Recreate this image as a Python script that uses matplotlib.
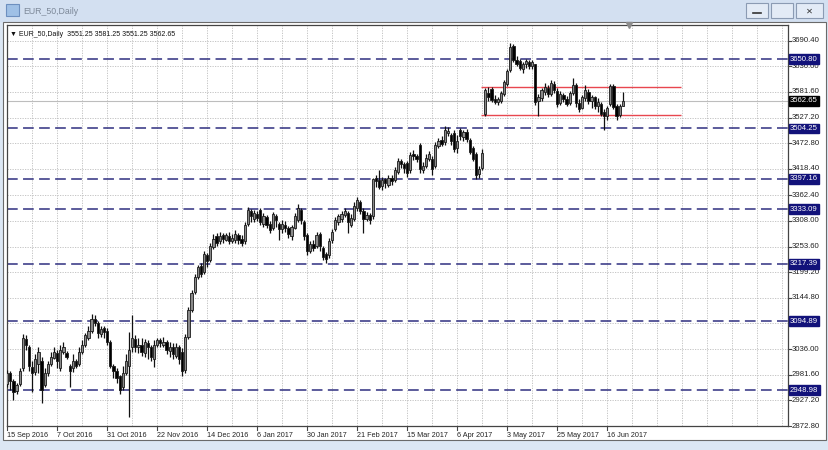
import matplotlib
matplotlib.use("Agg")
import matplotlib.pyplot as plt
from matplotlib.patches import Rectangle

# window / chart texts
symbol = "EUR_50,Daily"
header = "\u25bc EUR_50,Daily  3551.25 3581.25 3551.25 3562.65"

# daily candles (index 0 = 15 Sep 2016)
opens = [2962, 2985, 2968, 2948, 2962, 2995, 3058, 3040, 2998, 2988,
         3005, 3010, 2960, 2985, 3005, 3018, 3028, 2995, 3030, 3028,
         3000, 2995, 3010, 3005, 3030, 3045, 3060, 3075, 3100, 3092,
         3068, 3080, 3075, 3050, 3000, 2990, 2978, 2955, 2985, 3000,
         3040, 3058, 3040, 3045, 3028, 3048, 3040, 3015, 3045, 3055,
         3045, 3050, 3032, 3040, 3022, 3040, 3030, 2992, 3062, 3120,
         3158, 3190, 3212, 3200, 3236, 3225, 3252, 3275, 3265, 3278,
         3268, 3276, 3266, 3268, 3278, 3270, 3265, 3302, 3328, 3312,
         3322, 3332, 3302, 3316, 3302, 3292, 3318, 3302, 3290, 3300,
         3292, 3275, 3292, 3310, 3332, 3305, 3278, 3245, 3260, 3255,
         3280, 3250, 3238, 3235, 3268, 3290, 3305, 3312, 3320, 3325,
         3300, 3312, 3335, 3348, 3330, 3312, 3320, 3318, 3398, 3395,
         3382, 3396, 3385, 3400, 3394, 3412, 3436, 3428, 3430, 3415,
         3450, 3446, 3470, 3416, 3425, 3440, 3440, 3425, 3468, 3480,
         3475, 3495, 3490, 3495, 3462, 3500, 3485, 3497, 3480, 3462,
         3450, 3408, 3420, 3535, 3580, 3588, 3566, 3560, 3562, 3578,
         3598, 3628, 3680, 3650, 3648, 3630, 3640, 3646, 3636, 3640,
         3562, 3568, 3582, 3590, 3578, 3598, 3584, 3558, 3576, 3566,
         3558, 3580, 3596, 3558, 3548, 3568, 3582, 3562, 3570, 3552,
         3556, 3540, 3530, 3556, 3594, 3552, 3532, 3551.25]
highs = [2992, 2990, 2972, 2965, 2995, 3068, 3065, 3045, 3010, 3025,
         3040, 3020, 2995, 3010, 3030, 3040, 3035, 3045, 3050, 3032,
         3005, 3025, 3015, 3040, 3055, 3070, 3085, 3110, 3108, 3095,
         3085, 3085, 3080, 3055, 3005, 2995, 2982, 3000, 3025, 3072,
         3108, 3065, 3060, 3060, 3058, 3055, 3045, 3055, 3060, 3060,
         3062, 3055, 3050, 3048, 3048, 3045, 3038, 3068, 3125, 3162,
         3195, 3215, 3218, 3245, 3240, 3262, 3280, 3282, 3285, 3283,
         3282, 3284, 3280, 3288, 3282, 3278, 3305, 3338, 3334, 3332,
         3330, 3336, 3324, 3320, 3308, 3326, 3322, 3305, 3310, 3308,
         3298, 3300, 3325, 3344, 3336, 3310, 3282, 3265, 3268, 3285,
         3285, 3255, 3242, 3272, 3290, 3316, 3322, 3328, 3336, 3328,
         3322, 3348, 3358, 3352, 3336, 3326, 3324, 3400, 3406, 3416,
         3402, 3400, 3405, 3405, 3422, 3442, 3440, 3432, 3435, 3454,
         3458, 3450, 3474, 3432, 3450, 3456, 3445, 3476, 3484, 3488,
         3509, 3508, 3495, 3500, 3490, 3505, 3500, 3503, 3484, 3466,
         3455, 3425, 3460, 3590, 3592, 3592, 3575, 3570, 3584, 3606,
         3630, 3685, 3684, 3658, 3652, 3646, 3652, 3650, 3650, 3642,
         3578, 3590, 3600, 3596, 3606, 3604, 3590, 3584, 3580, 3574,
         3584, 3611, 3600, 3566, 3575, 3596, 3588, 3576, 3574, 3568,
         3560, 3545, 3552, 3598, 3598, 3556, 3556, 3581.25]
lows = [2955, 2950, 2928, 2940, 2958, 2990, 3035, 2990, 2945, 2980,
        2985, 2921, 2955, 2978, 3000, 3015, 2995, 2990, 3025, 3015,
        2955, 2988, 2995, 3000, 3025, 3040, 3055, 3070, 3085, 3060,
        3062, 3060, 3045, 2995, 2975, 2965, 2940, 2950, 2980, 2892,
        3030, 3030, 3028, 3022, 3020, 3015, 3010, 2998, 3040, 3040,
        3040, 3025, 3020, 3015, 3018, 3005, 2978, 2985, 3058, 3115,
        3152, 3185, 3188, 3196, 3210, 3220, 3248, 3255, 3258, 3262,
        3265, 3258, 3262, 3262, 3258, 3255, 3260, 3298, 3305, 3305,
        3308, 3300, 3296, 3292, 3282, 3288, 3296, 3268, 3282, 3284,
        3272, 3268, 3290, 3305, 3302, 3268, 3236, 3240, 3245, 3250,
        3245, 3225, 3218, 3230, 3262, 3286, 3300, 3306, 3316, 3282,
        3296, 3308, 3330, 3322, 3282, 3308, 3302, 3312, 3380, 3375,
        3374, 3378, 3380, 3384, 3390, 3408, 3420, 3410, 3402, 3410,
        3438, 3432, 3410, 3410, 3420, 3436, 3405, 3420, 3462, 3466,
        3470, 3488, 3470, 3455, 3452, 3480, 3478, 3476, 3450, 3435,
        3397, 3400, 3415, 3530, 3562, 3560, 3556, 3554, 3558, 3572,
        3594, 3624, 3645, 3636, 3628, 3622, 3632, 3630, 3630, 3555,
        3531, 3562, 3576, 3570, 3574, 3580, 3550, 3555, 3560, 3552,
        3554, 3576, 3550, 3540, 3545, 3562, 3556, 3548, 3545, 3540,
        3530, 3501, 3522, 3552, 3545, 3522, 3528, 3551.25]
closes = [2985, 2968, 2945, 2960, 2990, 3060, 3045, 3000, 2985, 3015,
          3030, 2950, 2985, 3005, 3020, 3030, 3010, 3035, 3040, 3020,
          2990, 3010, 3000, 3030, 3045, 3065, 3075, 3100, 3092, 3070,
          3078, 3072, 3050, 3000, 2990, 2975, 2950, 2985, 3010, 3035,
          3060, 3040, 3045, 3030, 3050, 3040, 3020, 3045, 3055, 3048,
          3052, 3035, 3040, 3025, 3040, 3015, 2990, 3062, 3118, 3155,
          3190, 3210, 3195, 3238, 3222, 3255, 3270, 3262, 3275, 3270,
          3278, 3265, 3272, 3280, 3268, 3262, 3300, 3332, 3318, 3325,
          3315, 3305, 3318, 3300, 3288, 3322, 3310, 3290, 3302, 3292,
          3280, 3296, 3318, 3335, 3310, 3275, 3245, 3258, 3250, 3278,
          3255, 3232, 3228, 3265, 3285, 3310, 3318, 3322, 3330, 3305,
          3315, 3340, 3352, 3330, 3312, 3320, 3310, 3396, 3392, 3380,
          3395, 3388, 3400, 3392, 3415, 3436, 3428, 3420, 3410, 3448,
          3445, 3440, 3418, 3425, 3442, 3450, 3418, 3470, 3478, 3472,
          3500, 3498, 3478, 3460, 3478, 3488, 3496, 3482, 3455, 3440,
          3405, 3418, 3452, 3585, 3570, 3565, 3560, 3566, 3580, 3602,
          3626, 3678, 3650, 3642, 3632, 3642, 3648, 3636, 3645, 3560,
          3570, 3585, 3592, 3578, 3600, 3585, 3556, 3578, 3566, 3556,
          3580, 3596, 3558, 3546, 3570, 3585, 3562, 3570, 3552, 3560,
          3535, 3530, 3548, 3594, 3550, 3530, 3552, 3562.65]

date_labels = ["15 Sep 2016", "7 Oct 2016", "31 Oct 2016", "22 Nov 2016",
               "14 Dec 2016", "6 Jan 2017", "30 Jan 2017", "21 Feb 2017",
               "15 Mar 2017", "6 Apr 2017", "3 May 2017", "25 May 2017",
               "16 Jun 2017"]
bars_per_label = 16
price_ticks = [3690.40, 3636.00, 3581.60, 3527.20, 3472.80, 3418.40, 3362.40,
               3308.00, 3253.60, 3199.20, 3144.80, 3090.40, 3036.00, 2981.60,
               2927.20, 2872.80]
levels = [3650.80, 3504.25, 3397.16, 3333.09, 3217.39, 3094.89, 2948.98]
last_price = 3562.65
range_top = 3592.0
range_bottom = 3533.0
range_from, range_to = 151.5, 215.5

W, H = 829, 450
fig = plt.figure(figsize=(W / 100, H / 100), dpi=100)
fig.patch.set_facecolor("#dce7f4")

# window chrome drawn in pixel coordinates
bg = fig.add_axes([0, 0, 1, 1])
bg.set_xlim(0, W)
bg.set_ylim(H, 0)
bg.axis("off")
bg.add_patch(Rectangle((0, 0), W, 21, color="#d3e0f1", zorder=0))
bg.add_patch(Rectangle((3, 22), 823, 418, facecolor="white",
                       edgecolor="#6a6a6a", lw=0.8, zorder=1))
bg.add_patch(Rectangle((6, 4), 13, 12, facecolor="#9fc0e6",
                       edgecolor="#6d8fbf", lw=0.8, zorder=2))
bg.text(23, 11, symbol, fontsize=6.3, color="#7c8898", va="center",
        family="Liberation Sans")
for bx, bw in [(746, 22), (771, 22), (796, 27)]:
    bg.add_patch(Rectangle((bx, 3), bw, 15, facecolor="#e3ebf6",
                           edgecolor="#8b9bb3", lw=0.8, zorder=2))
bg.plot([753, 761], [13, 13], color="#333", lw=1.2)
bg.add_patch(Rectangle((778, 7), 8, 7, facecolor="none", edgecolor="#333", lw=1))
bg.text(809.5, 11, "\u2715", fontsize=6, ha="center", va="center", color="#333")

# chart axes: frame spans x 7..788, y 25..426 px
x0, x1, y0, y1 = 7, 788, 25, 426
ax = fig.add_axes([x0 / W, 1 - y1 / H, (x1 - x0) / W, (y1 - y0) / H])
px_per_bar = 3.125
ax.set_xlim(-0.05, (x1 - x0) / px_per_bar - 0.05)
ax.set_ylim(2872.8, 2872.8 + (y1 - y0) * 2.122)
for s in ax.spines.values():
    s.set_color("#444444")
    s.set_linewidth(0.9)
ax.set_xticks([])
ax.set_yticks([])

n = len(closes)
xs = list(range(n))
grid_kw = dict(color="#bdbdbd", lw=0.6, linestyle=(0, (1.5, 1.5)), zorder=0)
for g in range(8, 250, 8):
    ax.axvline(g, **grid_kw)
for p in price_ticks:
    ax.axhline(p, **grid_kw)

# price scale labels (3090.40 sits under the 3094.89 level box)
ytr = ax.get_yaxis_transform()
for p in price_ticks:
    ax.plot([1, 1.004], [p, p], transform=ytr, color="#444", lw=0.8, clip_on=False)
    if any(abs(p - lv) < 6 for lv in levels):
        continue
    ax.text(1.005, p, f"{p:.2f}", transform=ytr, fontsize=5.6, va="center",
            ha="left", color="#222", family="Liberation Sans", clip_on=False)

# date labels
xtr = ax.get_xaxis_transform()
for k, lab in enumerate(date_labels):
    pos = k * bars_per_label
    ax.plot([pos, pos], [0, -0.01], transform=xtr, color="#444", lw=0.8, clip_on=False)
    ax.text(pos + 0.1, -0.023, lab, transform=xtr, fontsize=5.2, va="center",
            ha="left", color="#222", family="Liberation Sans", clip_on=False)

# horizontal levels
for lv in levels:
    ax.axhline(lv, color="#2f2f80", lw=1.1, linestyle=(0, (7, 3.5)), zorder=1)
    ax.text(1.0025, lv, f"{lv:.2f}", transform=ytr, fontsize=5.6, va="center",
            ha="left", color="white", family="Liberation Sans", clip_on=False,
            zorder=5, bbox=dict(boxstyle="square,pad=0.18", fc="#12127a",
                                ec="#12127a"))

ax.axhline(last_price, color="#bdbdbd", lw=0.8, zorder=1)
ax.text(1.0025, last_price, f"{last_price:.2f}", transform=ytr, fontsize=5.6,
        va="center", ha="left", color="white", family="Liberation Sans",
        clip_on=False, zorder=5,
        bbox=dict(boxstyle="square,pad=0.18", fc="black", ec="black"))

ax.hlines([range_top, range_bottom], range_from, range_to, color="#e8474f",
          lw=1.0, zorder=2)

# candles
ax.vlines(xs, lows, highs, color="#111111", lw=0.9, zorder=3)
up = [c >= o for o, c in zip(opens, closes)]
bottoms = [min(o, c) for o, c in zip(opens, closes)]
heights = [max(abs(c - o), 1.0) for o, c in zip(opens, closes)]
ax.bar(xs, heights, bottom=bottoms, width=0.72,
       color=["#8a8a8a" if u else "#000000" for u in up],
       edgecolor="#1a1a1a", linewidth=0.6, zorder=4)

ax.text(0.004, 0.985, header, transform=ax.transAxes, fontsize=5.0,
        va="top", ha="left", color="#111", family="Liberation Sans")
ax.plot([199], [1.0], transform=xtr, marker="v", ms=4, color="#8c8c8c",
        clip_on=False, zorder=6)

fig.savefig("out.png", dpi=100, facecolor=fig.get_facecolor())
